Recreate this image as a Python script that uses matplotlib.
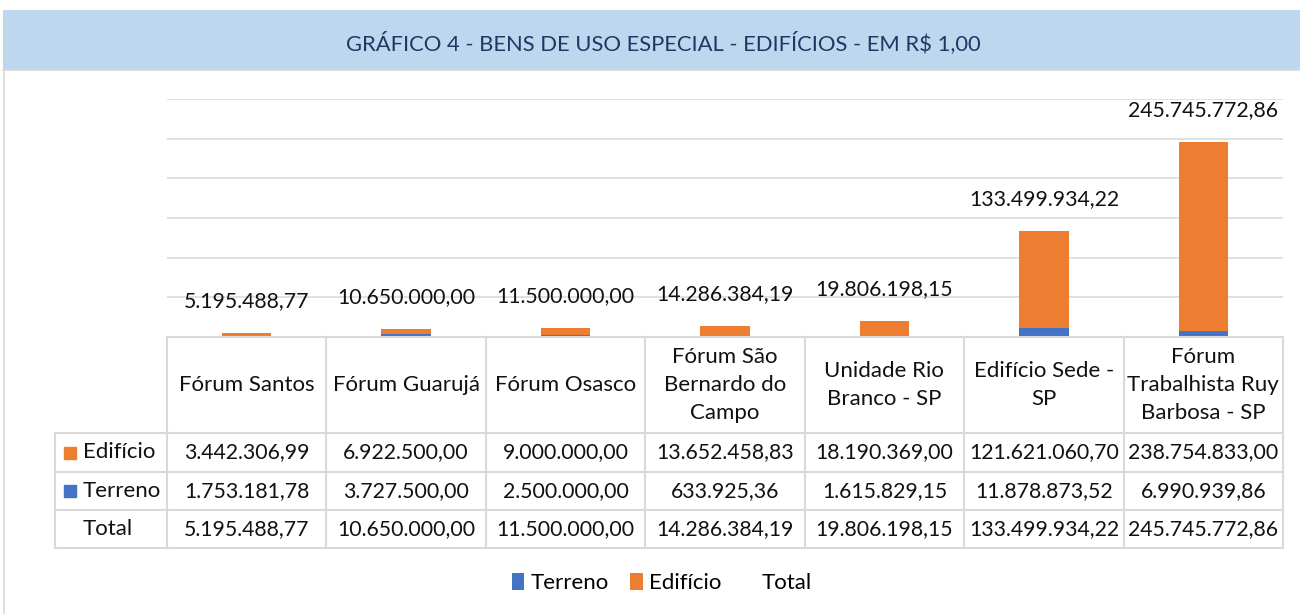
import matplotlib
matplotlib.use("Agg")
import matplotlib.pyplot as plt
from matplotlib.patches import Rectangle
from matplotlib.lines import Line2D

plt.rcParams['font.family'] = ['Lato', 'DejaVu Sans']

categorias = ["Fórum Santos", "Fórum Guarujá", "Fórum Osasco",
              "Fórum São\nBernardo do\nCampo", "Unidade Rio\nBranco - SP",
              "Edifício Sede -\nSP", "Fórum\nTrabalhista Ruy\nBarbosa - SP"]
edificio = [3442306.99, 6922500.00, 9000000.00, 13652458.83, 18190369.00,
            121621060.70, 238754833.00]
terreno = [1753181.78, 3727500.00, 2500000.00, 633925.36, 1615829.15,
           11878873.52, 6990939.86]
total = [5195488.77, 10650000.00, 11500000.00, 14286384.19, 19806198.15,
         133499934.22, 245745772.86]

titulo = "GRÁFICO 4 - BENS DE USO ESPECIAL - EDIFÍCIOS - EM R$ 1,00"

AZUL = "#4472C4"
LARANJA = "#ED7D31"
CINZA = "#D9D9D9"
TXT = "#111111"
FN = 15.3   # numeros
FT = 16     # textos


def fmt(v):
    s = f"{v:,.2f}"
    return s.replace(",", "X").replace(".", ",").replace("X", ".")


W, H = 1300, 614
fig = plt.figure(figsize=(W / 100, H / 100), dpi=100)

# faixa do titulo
fig.add_artist(Rectangle((3 / W, (H - 70) / H), 1297 / W, 60 / H,
                         transform=fig.transFigure, facecolor="#BDD7EE",
                         edgecolor="none"))
fig.add_artist(Line2D([3 / W, 1], [(H - 70) / H] * 2, transform=fig.transFigure,
                      color=CINZA, lw=1.2))
fig.add_artist(Line2D([4 / W, 4 / W], [0, (H - 70) / H], transform=fig.transFigure,
                      color=CINZA, lw=1.2))
fig.text(663 / W, 1 - 43 / H, titulo, ha="center", va="center",
         fontsize=15.8, color="#1F3864")

# grafico
x = list(range(len(categorias)))
ax = fig.add_axes([167 / W, (H - 337) / H, 1116 / W, 238 / H])
b1 = ax.bar(x, terreno, width=0.31, color=AZUL, label="Terreno", zorder=3)
b2 = ax.bar(x, edificio, width=0.31, bottom=terreno, color=LARANJA,
            label="Edifício", zorder=3)
ln, = ax.plot(x, total, linestyle="none", label="Total")
for xi, t in zip(x, total):
    ax.annotate(fmt(t), (xi, t), xytext=(0, 23), textcoords="offset points",
                ha="center", va="center", fontsize=FN, color=TXT, zorder=4)
ax.set_xlim(-0.5, 6.5)
ax.set_ylim(0, 300e6)
ax.set_yticks([i * 50e6 for i in range(7)])
ax.grid(axis="y", color=CINZA, lw=1.1, zorder=0)
ax.tick_params(left=False, bottom=False, labelleft=False, labelbottom=False)
for s in ax.spines.values():
    s.set_visible(False)

# tabela de dados
wcat = 1116 / 7
tax = fig.add_axes([55 / W, (H - 548) / H, (1283 - 55) / W, 211 / H])
x0 = -0.5 - 112 / wcat
tax.set_xlim(x0, 6.5)
tax.set_ylim(211, 0)
tax.axis("off")
linhas = [0, 96, 135, 173, 211]
for i, yl in enumerate(linhas):
    tax.plot([x0 if i > 0 else -0.5, 6.5], [yl, yl], color=CINZA, lw=1.5,
             clip_on=False)
for k in range(8):
    tax.plot([k - 0.5, k - 0.5], [0, 211], color=CINZA, lw=1.5, clip_on=False)
tax.plot([x0, x0], [96, 211], color=CINZA, lw=1.5, clip_on=False)

for xi, c in zip(x, categorias):
    tax.text(xi, 48, c, ha="center", va="center", fontsize=FT,
             linespacing=1.48, color=TXT)

rotulos = ["Edifício", "Terreno", "Total"]
cores = [LARANJA, AZUL, None]
series = [edificio, terreno, total]
xr = x0 + 28 / wcat
for r, (nome, cor, vals) in enumerate(zip(rotulos, cores, series)):
    yc = (linhas[r + 1] + linhas[r + 2]) / 2
    if cor:
        tax.plot([x0 + 15 / wcat], [yc], marker="s", markersize=9, color=cor,
                 clip_on=False)
    tax.text(xr, yc, nome, ha="left", va="center", fontsize=FT, color=TXT)
    for xi, v in zip(x, vals):
        tax.text(xi, yc, fmt(v), ha="center", va="center", fontsize=FN,
                 color=TXT)

fig.legend(handles=[b1, b2, ln], loc="center",
           bbox_to_anchor=(0.5 + 12 / W, 1 - 583 / H),
           ncol=3, frameon=False, fontsize=FT, handlelength=0.55,
           handleheight=0.8, handletextpad=0.3, columnspacing=0.95)

fig.savefig("out.png", dpi=100)
